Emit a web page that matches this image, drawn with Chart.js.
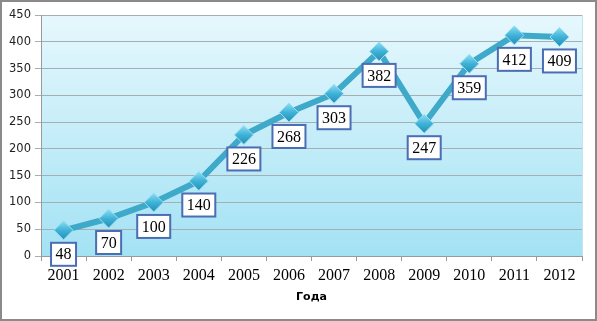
<!DOCTYPE html>
<html>
<head>
<meta charset="utf-8">
<script src="https://cdn.jsdelivr.net/npm/chart.js@4/dist/chart.umd.min.js"></script>
<style>
  html, body { margin: 0; padding: 0; background: #fff; }
  #wrap { width: 597px; height: 321px; position: relative; }
</style>
</head>
<body>
<div id="wrap"><canvas id="chart"></canvas></div>
<script>
// chart data
const years = ['2001', '2002', '2003', '2004', '2005', '2006', '2007', '2008', '2009', '2010', '2011', '2012'];
const values = [48, 70, 100, 140, 226, 268, 303, 382, 247, 359, 412, 409];
const yTicks = [0, 50, 100, 150, 200, 250, 300, 350, 400, 450];
const xTitle = 'Года';

// plot background gradient + outer frame
const framePlugin = {
  id: 'frame',
  beforeDraw(chart) {
    const { ctx, chartArea: a } = chart;
    ctx.save();
    ctx.fillStyle = '#ffffff';
    ctx.fillRect(0, 0, chart.width, chart.height);
    const g = ctx.createLinearGradient(0, a.top, 0, a.bottom);
    g.addColorStop(0, '#e6f8fd');
    g.addColorStop(1, '#a3e2f4');
    ctx.fillStyle = g;
    ctx.fillRect(a.left, a.top, a.right - a.left, a.bottom - a.top);
    ctx.strokeStyle = '#c5e3ec';
    ctx.lineWidth = 1;
    ctx.strokeRect(a.left + 0.5, a.top + 0.5, a.right - a.left, a.bottom - a.top);
    ctx.strokeStyle = '#8a8a8a';
    ctx.lineWidth = 2;
    ctx.strokeRect(1, 1, chart.width - 2, chart.height - 2);
    ctx.restore();
  }
};

// boxed value labels under each point
const boxLabels = {
  id: 'boxLabels',
  afterDatasetsDraw(chart) {
    const { ctx } = chart;
    const meta = chart.getDatasetMeta(0);
    ctx.save();
    ctx.font = '16px "Liberation Serif", "Times New Roman", serif';
    ctx.textAlign = 'center';
    ctx.textBaseline = 'middle';
    meta.data.forEach((pt, i) => {
      const txt = String(values[i]);
      const w = ctx.measureText(txt).width + 9;
      const h = 23;
      const cx = pt.x;
      const cy = pt.y + 24;
      ctx.fillStyle = '#ffffff';
      ctx.fillRect(cx - w / 2, cy - h / 2, w, h);
      ctx.strokeStyle = '#4a6db3';
      ctx.lineWidth = 2;
      ctx.strokeRect(cx - w / 2, cy - h / 2, w, h);
      ctx.fillStyle = '#000000';
      ctx.fillText(txt, cx, cy + 1);
    });
    ctx.restore();
  }
};

// shaded diamond fill per point
function pointFill(context) {
  const el = context.element;
  if (!el || el.x === undefined) return '#40b4d9';
  const g = context.chart.ctx.createLinearGradient(el.x, el.y - 9, el.x, el.y + 9);
  g.addColorStop(0, '#8adcf3');
  g.addColorStop(0.5, '#3fb2d8');
  g.addColorStop(1, '#2590b8');
  return g;
}

new Chart(document.getElementById('chart'), {
  type: 'line',
  data: {
    labels: years,
    datasets: [{
      data: values,
      borderColor: '#3fa9c9',
      borderWidth: 6,
      pointStyle: 'rectRot',
      pointRadius: 9.5,
      pointBackgroundColor: pointFill,
      pointBorderColor: '#9ddff1',
      pointBorderWidth: 1,
      tension: 0,
      fill: false
    }]
  },
  options: {
    responsive: true,
    maintainAspectRatio: false,
    animation: false,
    layout: { padding: { top: 15, right: 15, left: 0, bottom: 11 } },
    plugins: {
      legend: { display: false },
      tooltip: { enabled: false }
    },
    scales: {
      x: {
        offset: true,
        grid: { display: true, drawOnChartArea: false, drawTicks: true, tickLength: 5, color: '#9a9a9a', offset: true },
        border: { display: true, color: '#9a9a9a' },
        ticks: { color: '#000', font: { family: '"Liberation Serif", "Times New Roman", serif', size: 16 }, padding: 5 },
        title: { display: true, text: xTitle, color: '#000', font: { family: '"DejaVu Sans", Verdana, sans-serif', size: 11, weight: 'bold' }, padding: { top: 10, bottom: 6 } },
        afterFit(scale) { scale.height = 54; }
      },
      y: {
        min: 0,
        max: 450,
        afterBuildTicks(scale) { scale.ticks = yTicks.map(v => ({ value: v })); },
        grid: { color: '#a3afb3', tickLength: 6 },
        border: { display: true, color: '#9a9a9a' },
        ticks: { color: '#222', font: { family: '"DejaVu Sans", Verdana, sans-serif', size: 11.5 }, padding: 4 },
        afterFit(scale) { scale.width = 41; }
      }
    }
  },
  plugins: [framePlugin, boxLabels]
});
</script>
</body>
</html>
